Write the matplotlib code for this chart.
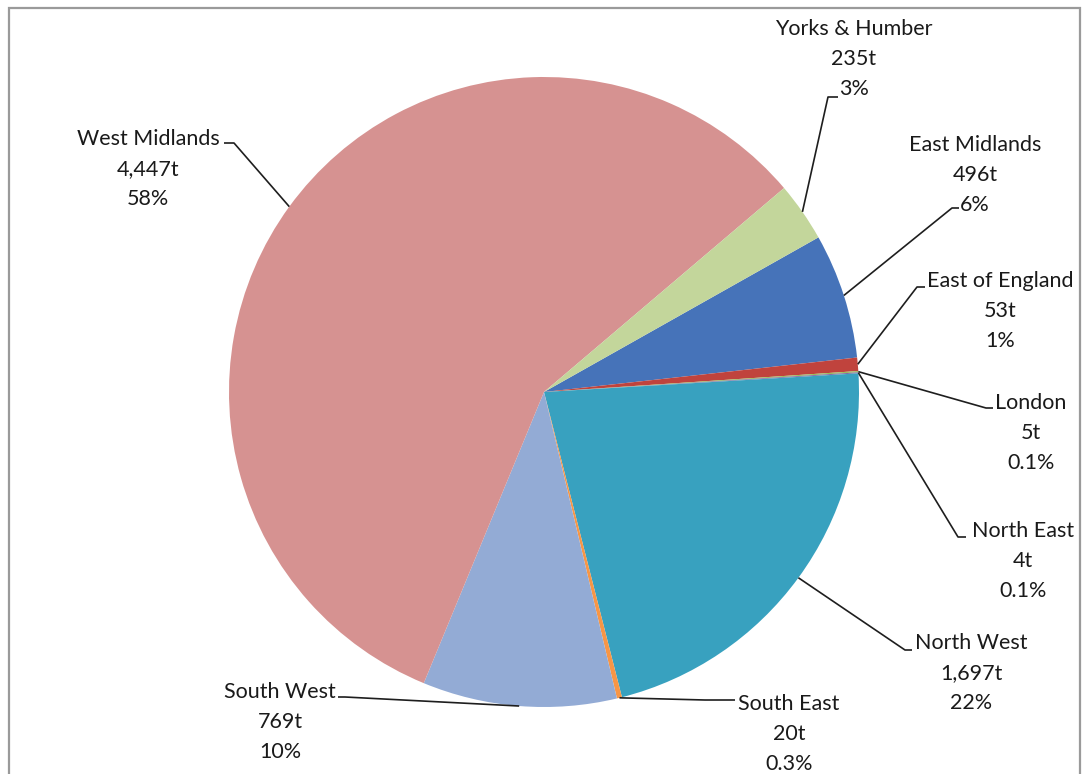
import numpy as np
import matplotlib
matplotlib.use("Agg")
import matplotlib.pyplot as plt
from matplotlib.patches import Rectangle

# tonnage by region (alphabetical, as the slices run clockwise)
regions = ["East Midlands", "East of England", "London", "North East", "North West",
           "South East", "South West", "West Midlands", "Yorks & Humber"]
tonnes = [496, 53, 5, 4, 1697, 20, 769, 4447, 235]
tonne_labels = ["496t", "53t", "5t", "4t", "1,697t", "20t", "769t", "4,447t", "235t"]
pct_labels = ["6%", "1%", "0.1%", "0.1%", "22%", "0.3%", "10%", "58%", "3%"]
colors = ["#4673B9", "#C0433D", "#9BBB59", "#8064A2", "#38A1BF",
          "#F79646", "#93ABD5", "#D69291", "#C3D69B"]

W, H = 1082, 774
fig = plt.figure(figsize=(W / 100, H / 100), dpi=100)
ax = fig.add_axes([0, 0, 1, 1])

cx, cy, R = 544, H - 392, 315
wedges, _ = ax.pie(tonnes, colors=colors, startangle=29.4, counterclock=False,
                   center=(cx, cy), radius=R, frame=True,
                   wedgeprops=dict(linewidth=0))
ax.set_xlim(0, W)
ax.set_ylim(0, H)
ax.set_aspect("equal")
ax.axis("off")

# label block centre (x, y of middle line) and leader elbow (x, y, tick end x), in pixels from top-left
label_pos = {
    "East Midlands": (975, 175, 952, 208, 959),
    "East of England": (1000, 311, 917, 287, 925),
    "London": (1031, 433, 986, 408, 993),
    "North East": (1023, 561, 958, 537, 966),
    "North West": (971, 673, 905, 650, 912),
    "South East": (789, 734, 705, 700, 735),
    "South West": (280, 722, 345, 697, 338),
    "West Midlands": (148, 169, 234, 143, 224),
    "Yorks & Humber": (854, 59, 828, 97, 838),
}

for w, name, t, p in zip(wedges, regions, tonne_labels, pct_labels):
    tx, ty, ex, ey, kx = label_pos[name]
    mid = np.deg2rad((w.theta1 + w.theta2) / 2)
    sx, sy = cx + R * np.cos(mid), cy + R * np.sin(mid)
    ax.plot([sx, ex, kx], [sy, H - ey, H - ey], color="#1e1e1e", lw=1.2,
            solid_capstyle="butt", zorder=3)
    ax.text(tx, H - ty, f"{name}\n{t}\n{p}", ha="center", va="center",
            fontsize=15.5, family="Lato", color="#1a1a1a", linespacing=1.65)

# chart-area border
fig.patches.append(Rectangle((8.5 / W, -0.01), (1080 - 8.5) / W, 1 - 7.5 / H + 0.01,
                             transform=fig.transFigure, fill=False,
                             edgecolor="#9a9a9a", lw=1.6))

fig.savefig("out.png", dpi=100)
